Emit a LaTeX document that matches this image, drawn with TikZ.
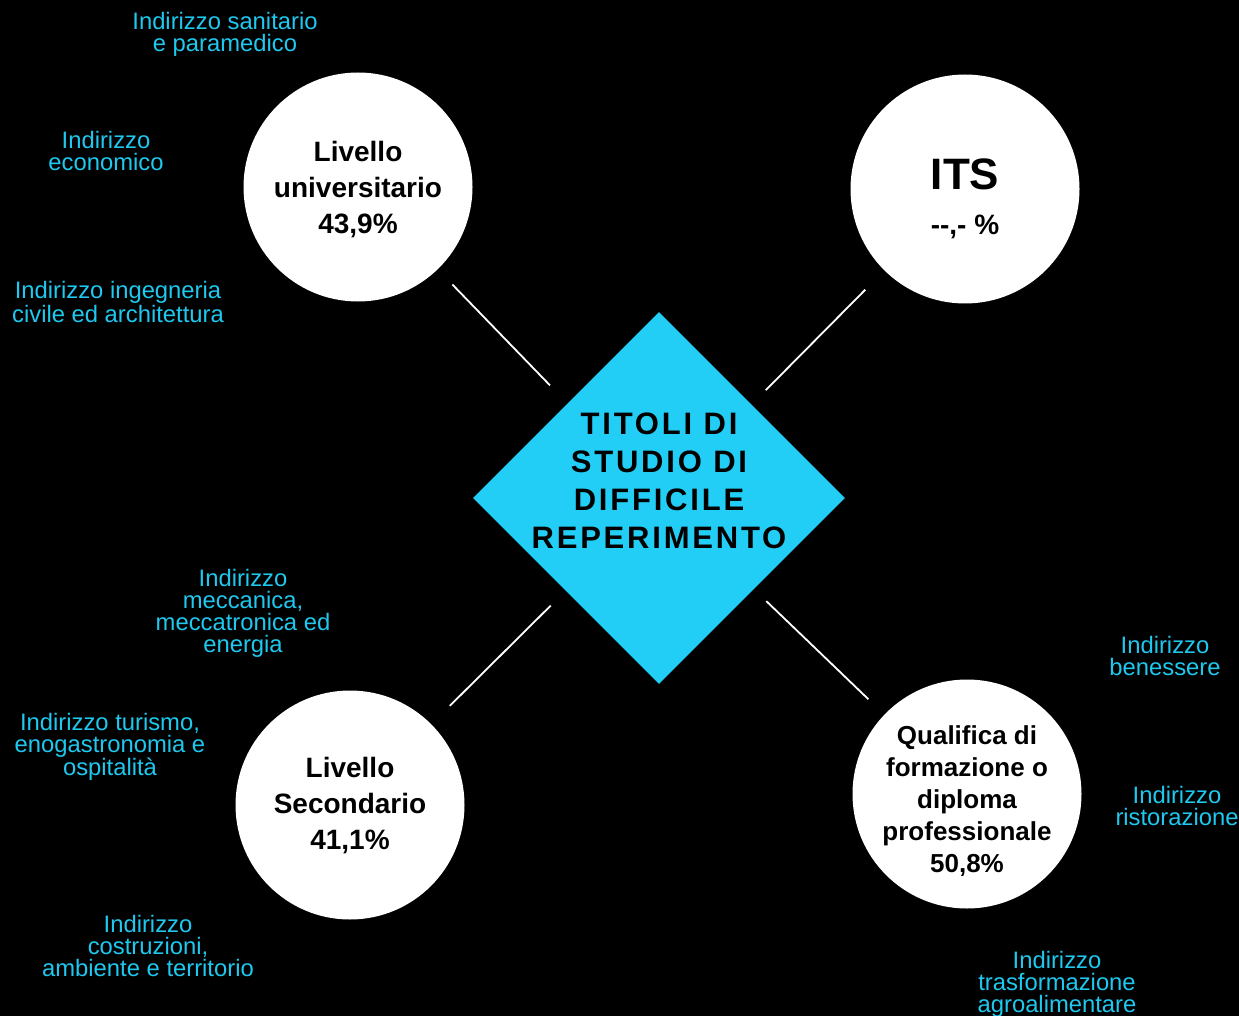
\documentclass[tikz,border=0pt]{standalone}
\usepackage{fontspec}
\setmainfont{Liberation Sans}
\newfontfamily\titlefont[LetterSpace=9]{Liberation Sans}
\usepackage{xcolor}
\usetikzlibrary{shapes.geometric, positioning, calc}
\definecolor{titlecyan}{RGB}{34,206,245}
\definecolor{labelcyan}{RGB}{30,200,238}

\begin{document}
\begin{tikzpicture}[x=1pt, y=-1pt,
		bubble/.style={circle, fill=white, minimum size=229pt, inner sep=0pt},
		note/.style={align=center, inner sep=0pt, font=\bfseries\fontsize{28}{36}\selectfont},
		field/.style={text=labelcyan, align=center, inner sep=0pt, font=\fontsize{23.8}{22}\selectfont},
		link/.style={draw=white, line width=1.8pt}]
				  \useasboundingbox (0,0) rectangle (1239,1016);
				  \fill[black] (0,0) rectangle (1239,1016);
				  \node[diamond, fill=titlecyan, minimum size=372pt, inner sep=0pt] (core) at (659,498) {};
				  \node[font=\titlefont\bfseries\fontsize{31}{38}\selectfont, align=center] (title) at (659,481) {TITOLI DI\\STUDIO DI\\DIFFICILE\\REPERIMENTO};
				  \node[bubble] (uni) at (358,187) {};
				  \node[bubble] (its) at (965,189) {};
				  \node[bubble] (sec) at (350,805) {};
				  \node[bubble] (qual) at (967,794) {};
				  \node[note] (unitext) at ([yshift=-3pt]uni.center) {Livello\\universitario\\43,9\%};
				  \node[note, font=\bfseries\fontsize{28}{45}\selectfont] (itstext) at ([yshift=-9.5pt]its.center) {\fontsize{44}{45}\selectfont ITS\\-{}-,- \%};
				  \node[note] (sectext) at ([yshift=-1pt]sec.center) {Livello\\Secondario\\41,1\%};
				  \node[note, font=\bfseries\fontsize{26}{32}\selectfont] (qualtext) at ([yshift=-7pt]qual.center) {Qualifica di\\formazione o\\diploma\\professionale\\50,8\%};
				  \draw[link, shorten <=21pt, shorten >=25pt] (uni) -- (core);
				  \draw[link, shorten <=27pt, shorten >=20pt] (its) -- (core);
				  \draw[link, shorten <=26pt, shorten >=21pt] (sec) -- (core);
				  \draw[link, shorten <=22pt, shorten >=17pt] (qual) -- (core);
				  \node[field] (sanit) at (225,34) {Indirizzo sanitario\\e paramedico};
				  \node[field] (econ) at (106,151) {Indirizzo\\economico};
				  \node[field] (ingeg) at (118,302) {Indirizzo ingegneria\\civile ed architettura};
				  \node[field] (mecc) at (243,613) {Indirizzo\\meccanica,\\meccatronica ed\\energia};
				  \node[field] (turis) at (110,747) {Indirizzo turismo,\\enogastronomia e\\ospitalità};
				  \node[field] (costr) at (148,946) {Indirizzo\\costruzioni,\\ambiente e territorio};
				  \node[field] (benes) at (1165,656) {Indirizzo\\benessere};
				  \node[field] (risto) at (1177,806) {Indirizzo\\ristorazione};
				  \node[field] (agro) at (1057,984) {Indirizzo\\trasformazione\\agroalimentare};
				\end{tikzpicture}
\end{document}
